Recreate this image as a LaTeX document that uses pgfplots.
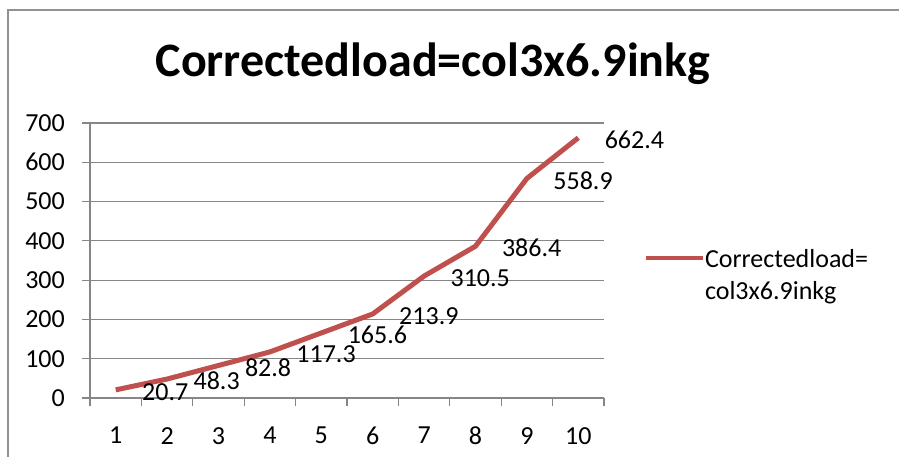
\documentclass[border=0pt]{standalone}
\usepackage{pgfplots}
\pgfplotsset{compat=1.18}
\usepackage{fontspec}
\setmainfont{Carlito}
\definecolor{linered}{HTML}{C0504D}
\definecolor{gridgray}{HTML}{868686}
\begin{document}
\begin{tikzpicture}
\useasboundingbox (0,0) rectangle (899pt,456pt);
\draw[color=gridgray!90, line width=1.5pt] (8pt,-20pt) -- (8pt,446pt) -- (920pt,446pt);
\node[font=\fontsize{48}{52}\selectfont\bfseries] at (433pt,392pt) {Correctedload=col3x6.9inkg};
\begin{axis}[
  at={(90pt,58pt)}, anchor=south west,
  scale only axis, width=514pt, height=275pt,
  xmin=0.5, xmax=10.5, ymin=0, ymax=700,
  axis x line=bottom, axis y line=left,
  axis line style={-, gridgray, line width=1.2pt},
  xtick={1,...,10},
  major x tick style={draw=none},
  minor xtick={0.5,1.5,...,10.5},
  minor tick length=8pt, major tick length=8pt,
  tick align=outside,
  ytick={0,100,...,700},
  ymajorgrids, grid style={gridgray, line width=1.2pt},
  tick style={gridgray, line width=1.2pt},
  /pgf/number format/assume math mode=true,
  tick label style={font=\fontsize{26}{28}\selectfont, black},
  yticklabel style={anchor=east, inner sep=0pt, xshift=-17pt},
  xticklabel style={anchor=north, inner sep=0pt, yshift=-21pt},
  legend style={draw=none, fill=none, inner sep=0pt, outer sep=0pt,
    at={(1,0.5)}, anchor=north west, xshift=40pt, yshift=11pt,
    nodes={inner sep=0pt},
    cells={anchor=base west},
    font=\fontsize{26}{28}\selectfont},
  legend image code/.code={\draw[#1, line width=4pt] (0pt,10pt) -- (57pt,10pt);},
  clip=false,
]
\addplot[color=linered, line width=5pt, line join=round, mark=none,
  nodes near coords={\pgfmathprintnumber[fixed,precision=1]{\pgfplotspointmeta}},
  nodes near coords style={anchor=west, inner sep=0pt, xshift=24pt, yshift=-2pt,
    font=\fontsize{26}{28}\selectfont, black}]
coordinates {
(1,20.7) (2,48.3) (3,82.8) (4,117.3) (5,165.6)
(6,213.9) (7,310.5) (8,386.4) (9,558.9) (10,662.4)
};
\addlegendentry{\vtop{\baselineskip=32pt\hbox{Correctedload=}\hbox{col3x6.9inkg}}}
\end{axis}
\end{tikzpicture}
\end{document}
